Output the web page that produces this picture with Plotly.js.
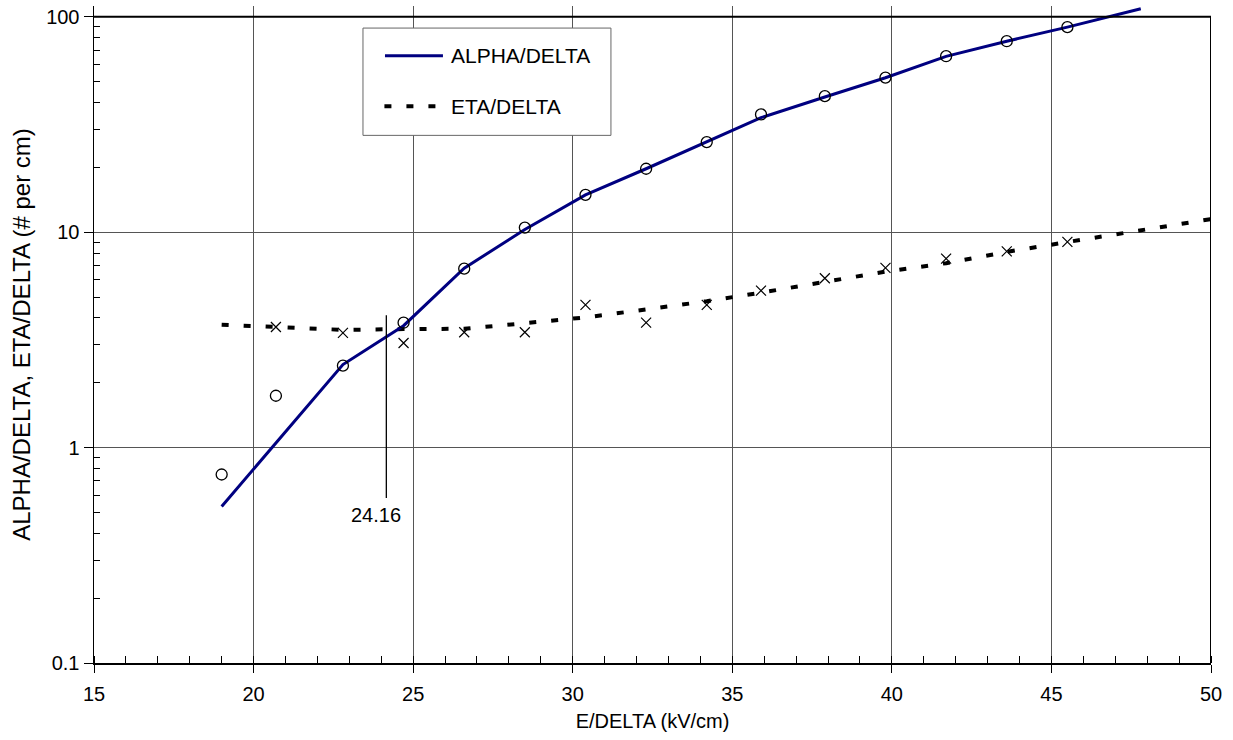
<!DOCTYPE html>
<html>
<head>
<meta charset="utf-8">
<script src="https://cdn.plot.ly/plotly-3.0.1.min.js"></script>
<style>
  html, body { margin: 0; padding: 0; background: #fff; }
  #chart { width: 1233px; height: 740px; }
</style>
</head>
<body>
<div id="chart"></div>
<script>
// Measured field strengths (kV/cm) and the ionisation / attachment coefficients
const eField = [19.0, 20.7, 22.8, 24.7, 26.6, 28.5, 30.4, 32.3, 34.2, 35.9, 37.9, 39.8, 41.7, 43.6, 45.5];
const alphaMeasured = [0.75, 1.74, 2.40, 3.80, 6.77, 10.5, 14.9, 19.7, 26.2, 35.2, 42.8, 52.2, 65.6, 77.0, 89.5];

const etaField = [20.7, 22.8, 24.7, 26.6, 28.5, 30.4, 32.3, 34.2, 35.9, 37.9, 39.8, 41.7, 43.6, 45.5];
const etaMeasured = [3.63, 3.41, 3.06, 3.43, 3.43, 4.60, 3.80, 4.60, 5.35, 6.11, 6.83, 7.54, 8.15, 9.02];

// Fitted curves
const alphaFitField = [19.0, 20.7, 22.8, 24.7, 26.6, 28.5, 30.4, 32.3, 34.2, 35.9, 37.9, 39.8, 41.7, 43.6, 45.5, 47.8];
const alphaFit = [0.533, 1.05, 2.43, 3.68, 6.80, 10.3, 14.9, 19.7, 26.2, 34.0, 42.4, 52.1, 65.5, 77.0, 89.5, 109];

const etaFitField = [19.0, 20.7, 22.8, 24.7, 26.6, 28.5, 30.4, 32.3, 34.2, 35.9, 37.9, 39.8, 41.7, 43.6, 45.5, 47.4, 49.3, 50.0];
const etaFit = [3.72, 3.63, 3.52, 3.55, 3.56, 3.78, 4.02, 4.38, 4.78, 5.24, 5.86, 6.56, 7.18, 8.10, 9.00, 9.96, 11.1, 11.5];

// Crossing marker
const crossField = 24.16;
const crossSpan = [0.583, 4.11];
const crossLabel = '24.16';

// Axis ticks
const xTicks = [15, 20, 25, 30, 35, 40, 45, 50];
const yTicks = [0.1, 1, 10, 100];
const yTickText = ['0.1', '1', '10', '100'];
const yMinor = [0.2, 0.3, 0.4, 0.5, 0.6, 0.7, 0.8, 0.9,
                2, 3, 4, 5, 6, 7, 8, 9,
                20, 30, 40, 50, 60, 70, 80, 90];

const legendNames = ['ALPHA/DELTA', 'ETA/DELTA'];

const FONT = 'Arial, "Liberation Sans", sans-serif';
const NAVY = '#000080';

const traces = [
  {
    x: etaFitField, y: etaFit, type: 'scatter', mode: 'lines',
    line: { color: '#000', width: 4, dash: '7px,15px' },
    hoverinfo: 'skip', showlegend: false
  },
  {
    x: alphaFitField, y: alphaFit, type: 'scatter', mode: 'lines',
    line: { color: NAVY, width: 3 },
    hoverinfo: 'skip', showlegend: false, cliponaxis: false
  },
  {
    x: eField, y: alphaMeasured, type: 'scatter', mode: 'markers',
    marker: { symbol: 'circle-open', size: 11, color: '#000', line: { width: 1.3, color: '#000' } },
    showlegend: false
  },
  {
    x: etaField, y: etaMeasured, type: 'scatter', mode: 'markers',
    marker: { symbol: 'x-thin-open', size: 10, color: '#000', line: { width: 1.2, color: '#000' } },
    showlegend: false
  },
  {
    x: [crossField, crossField], y: crossSpan, type: 'scatter', mode: 'lines',
    line: { color: '#000', width: 1.3 },
    hoverinfo: 'skip', showlegend: false
  }
];

// paper coordinates of the legend box
const L = { x0: 0.2408, x1: 0.4628, y0: 0.8031, y1: 0.9664 };

const layout = {
  width: 1233, height: 740,
  margin: { l: 94, r: 22, t: 6, b: 77 },
  paper_bgcolor: '#fff', plot_bgcolor: '#fff',
  font: { family: FONT, size: 20, color: '#000' },
  showlegend: false,
  xaxis: {
    range: [15, 50],
    tickvals: xTicks,
    ticks: 'outside', ticklen: 8, tickwidth: 1, tickcolor: '#000',
    ticklabelstandoff: 4,
    tickfont: { size: 20 },
    showline: true, linecolor: '#000', linewidth: 2, mirror: false,
    showgrid: true, gridcolor: '#555', gridwidth: 1,
    zeroline: false,
    minor: { dtick: 1, ticks: 'inside', ticklen: 7, tickcolor: '#000', tickwidth: 1, showgrid: false },
    title: { text: 'E/DELTA (kV/cm)', font: { size: 20 }, standoff: 10 }
  },
  yaxis: {
    type: 'log',
    range: [-1, 2.05],
    tickvals: yTicks, ticktext: yTickText,
    ticks: 'outside', ticklen: 9, tickwidth: 1, tickcolor: '#000',
    ticklabelstandoff: 0,
    tickfont: { size: 20 },
    showline: true, linecolor: '#000', linewidth: 1.5, mirror: false,
    showgrid: true, gridcolor: '#555', gridwidth: 1,
    zeroline: false,
    minor: { tickvals: yMinor, ticks: 'inside', ticklen: 6, tickcolor: '#000', tickwidth: 1, showgrid: false },
    title: { text: 'ALPHA/DELTA, ETA/DELTA (# per cm)', font: { size: 24 }, standoff: 8 }
  },
  shapes: [
    // frame: top and right edges
    { type: 'line', xref: 'x', yref: 'y', x0: 15, x1: 50, y0: 100, y1: 100, line: { color: '#000', width: 2 } },
    { type: 'line', xref: 'x', yref: 'y', x0: 50, x1: 50, y0: 0.1, y1: 100, line: { color: '#000', width: 2 } },
    // legend
    { type: 'rect', xref: 'paper', yref: 'paper', x0: L.x0, x1: L.x1, y0: L.y0, y1: L.y1,
      fillcolor: '#fff', line: { color: '#666', width: 1 } },
    { type: 'line', xref: 'paper', yref: 'paper', x0: 0.2605, x1: 0.3124, y0: 0.9241, y1: 0.9241,
      line: { color: NAVY, width: 3 } },
    { type: 'line', xref: 'paper', yref: 'paper', x0: 0.2600, x1: 0.3124, y0: 0.8473, y1: 0.8473,
      line: { color: '#000', width: 4, dash: '7px,15px' } }
  ],
  annotations: [
    { xref: 'paper', yref: 'paper', x: 0.3178, y: 0.9241, xanchor: 'left', yanchor: 'middle',
      text: legendNames[0], showarrow: false, font: { size: 21 } },
    { xref: 'paper', yref: 'paper', x: 0.3178, y: 0.8473, xanchor: 'left', yanchor: 'middle',
      text: legendNames[1], showarrow: false, font: { size: 21 } },
    { xref: 'x', yref: 'y', x: crossField, y: Math.log10(crossSpan[0]), xanchor: 'center', yanchor: 'top',
      xshift: -10, yshift: -4, text: crossLabel, showarrow: false, font: { size: 20 } }
  ]
};

Plotly.newPlot('chart', traces, layout, { displayModeBar: false, staticPlot: true });
</script>
</body>
</html>
